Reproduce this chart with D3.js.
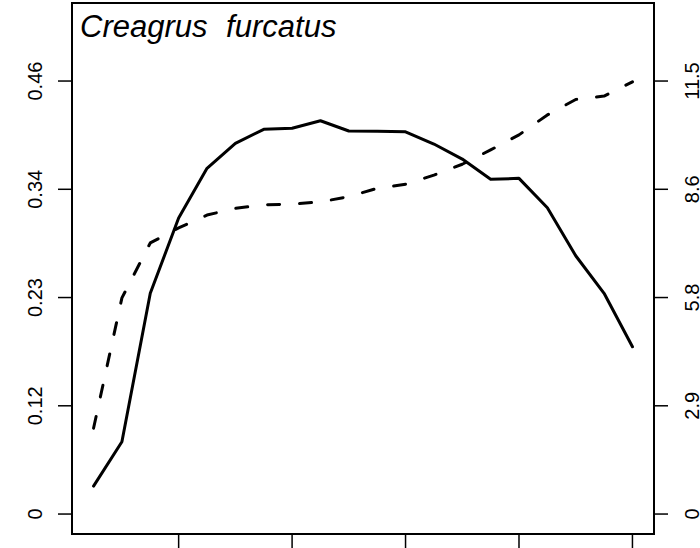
<!DOCTYPE html>
<html>
<head>
<meta charset="utf-8">
<script src="https://cdn.jsdelivr.net/npm/d3@7"></script>
<style>
  body { margin: 0; background: #fff; }
  svg { display: block; font-family: "Liberation Sans", Arial, sans-serif; }
</style>
</head>
<body>
<svg width="700" height="548"></svg>
<script>
// data
var species = "Creagrus furcatus";
var steps = [1,2,3,4,5,6,7,8,9,10,11,12,13,14,15,16,17,18,19,20];
var solidVals = [0.0297, 0.0768, 0.2345, 0.3145, 0.3673, 0.3938, 0.4087, 0.4098, 0.4178, 0.4069,
                 0.4066, 0.4061, 0.3931, 0.3771, 0.3556, 0.3566, 0.3254, 0.2744, 0.2345, 0.1777];
var dashVals = [2.28, 5.74, 7.20, 7.60, 7.94, 8.12, 8.21, 8.23, 8.29, 8.43,
                8.65, 8.76, 9.00, 9.29, 9.67, 10.07, 10.60, 11.01, 11.10, 11.48];
var leftTicks = [0, 0.115, 0.23, 0.345, 0.46];
var leftLabels = ["0", "0.12", "0.23", "0.34", "0.46"];
var rightTicks = [0, 2.875, 5.75, 8.625, 11.5];
var rightLabels = ["0", "2.9", "5.8", "8.6", "11.5"];
var bottomTicks = [4, 8, 12, 16, 20];

var svg = d3.select("svg");
var box = {left: 72, right: 654, top: 3, bottom: 534};

var x = d3.scaleLinear().domain([0.24, 20.76]).range([box.left, box.right]);
var yL = d3.scaleLinear().domain([-0.0212, 0.5429]).range([box.bottom, box.top]);
var yR = d3.scaleLinear().domain([-0.0212 * 25, 0.5429 * 25]).range([box.bottom, box.top]);

var line1 = d3.line().x(function(d, i){ return x(steps[i]); }).y(function(d){ return yL(d); });
var line2 = d3.line().x(function(d, i){ return x(steps[i]); }).y(function(d){ return yR(d); });

svg.append("path")
  .attr("d", line1(solidVals))
  .attr("fill", "none")
  .attr("stroke", "#000")
  .attr("stroke-width", 3)
  .attr("stroke-linejoin", "round")
  .attr("stroke-linecap", "round");

svg.append("path")
  .attr("d", line2(dashVals))
  .attr("fill", "none")
  .attr("stroke", "#000")
  .attr("stroke-width", 3)
  .attr("stroke-dasharray", "12,20")
  .attr("stroke-linejoin", "round")
  .attr("stroke-linecap", "round");

// frame
svg.append("rect")
  .attr("x", box.left).attr("y", box.top)
  .attr("width", box.right - box.left).attr("height", box.bottom - box.top)
  .attr("fill", "none").attr("stroke", "#000").attr("stroke-width", 2);

// left axis
var gl = svg.append("g");
gl.selectAll("line").data(leftTicks).enter().append("line")
  .attr("x1", box.left - 14).attr("x2", box.left)
  .attr("y1", function(d){ return yL(d); }).attr("y2", function(d){ return yL(d); })
  .attr("stroke", "#000").attr("stroke-width", 1.5);
gl.selectAll("text").data(leftTicks).enter().append("text")
  .attr("transform", function(d){ return "translate(42," + yL(d) + ") rotate(-90)"; })
  .attr("text-anchor", "middle")
  .attr("font-size", 20)
  .text(function(d, i){ return leftLabels[i]; });

// right axis
var gr = svg.append("g");
gr.selectAll("line").data(rightTicks).enter().append("line")
  .attr("x1", box.right).attr("x2", box.right + 14)
  .attr("y1", function(d){ return yR(d); }).attr("y2", function(d){ return yR(d); })
  .attr("stroke", "#000").attr("stroke-width", 1.5);
gr.selectAll("text").data(rightTicks).enter().append("text")
  .attr("transform", function(d){ return "translate(699," + yR(d) + ") rotate(-90)"; })
  .attr("text-anchor", "middle")
  .attr("font-size", 20)
  .text(function(d, i){ return rightLabels[i]; });

// bottom ticks (labels fall below the picture)
svg.append("g").selectAll("line").data(bottomTicks).enter().append("line")
  .attr("x1", function(d){ return x(d); }).attr("x2", function(d){ return x(d); })
  .attr("y1", box.bottom).attr("y2", box.bottom + 16)
  .attr("stroke", "#000").attr("stroke-width", 1.5);

// species name
svg.append("text")
  .attr("x", 80).attr("y", 37)
  .attr("font-size", 31)
  .attr("font-style", "italic")
  .style("word-spacing", "10px")
  .text(species);
</script>
</body>
</html>
